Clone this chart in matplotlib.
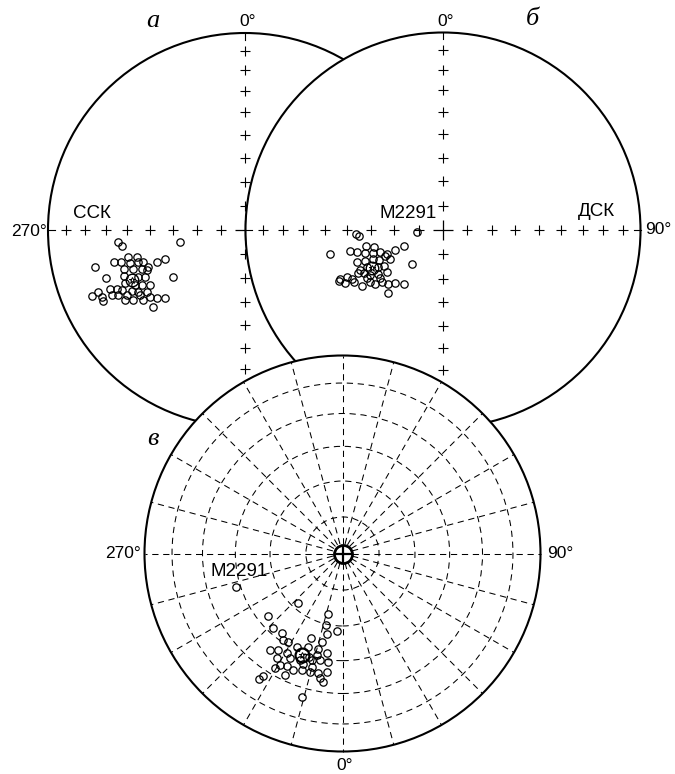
import numpy as np
import matplotlib
matplotlib.use('Agg')
import matplotlib.pyplot as plt
from matplotlib.patches import Circle
from matplotlib.transforms import Affine2D

# --- data: projected directions (equal-area net units, x = east, y = north) ---
# а: geographic system (ССК)
ssk_x = [-0.643, -0.623, -0.330, -0.761, -0.665, -0.631, -0.592, -0.550, -0.584, -0.541,
         -0.516, -0.491, -0.448, -0.406, -0.613, -0.567, -0.525, -0.499, -0.706, -0.613,
         -0.541, -0.508, -0.364, -0.609, -0.558, -0.525, -0.482, -0.685, -0.651, -0.626,
         -0.575, -0.541, -0.499, -0.745, -0.778, -0.728, -0.677, -0.643, -0.609, -0.567,
         -0.516, -0.482, -0.448, -0.406, -0.719, -0.465, -0.601, -0.533]
ssk_y = [-0.059, -0.080, -0.059, -0.190, -0.164, -0.164, -0.135, -0.139, -0.169, -0.164,
         -0.164, -0.190, -0.161, -0.147, -0.200, -0.200, -0.200, -0.203, -0.245, -0.232,
         -0.237, -0.237, -0.240, -0.271, -0.279, -0.279, -0.279, -0.301, -0.301, -0.305,
         -0.310, -0.313, -0.313, -0.316, -0.335, -0.338, -0.330, -0.330, -0.355, -0.355,
         -0.355, -0.338, -0.347, -0.347, -0.360, -0.389, -0.330, -0.330]
ssk_mean = (-0.575, -0.254)

# б: stratigraphic system (ДСК)
dsk_x = [-0.439, -0.423, -0.130, -0.571, -0.470, -0.433, -0.391, -0.347, -0.394, -0.352,
         -0.318, -0.285, -0.242, -0.200, -0.436, -0.394, -0.352, -0.322, -0.293, -0.268,
         -0.419, -0.386, -0.327, -0.298, -0.158, -0.428, -0.402, -0.369, -0.327, -0.285,
         -0.487, -0.520, -0.461, -0.495, -0.529, -0.411, -0.369, -0.343, -0.310, -0.276,
         -0.242, -0.200, -0.276, -0.453, -0.386, -0.318]
dsk_y = [-0.020, -0.029, -0.008, -0.123, -0.106, -0.109, -0.081, -0.088, -0.118, -0.118,
         -0.113, -0.123, -0.101, -0.081, -0.160, -0.155, -0.148, -0.152, -0.131, -0.148,
         -0.202, -0.189, -0.185, -0.182, -0.172, -0.219, -0.219, -0.227, -0.224, -0.215,
         -0.236, -0.249, -0.247, -0.269, -0.256, -0.286, -0.261, -0.273, -0.261, -0.273,
         -0.266, -0.273, -0.320, -0.261, -0.244, -0.244]
dsk_mean = (-0.360, -0.190)

# в
v_x = [-0.223, -0.072, -0.026, -0.083, -0.080, -0.349, -0.307, -0.299, -0.274, -0.159,
       -0.105, -0.231, -0.173, -0.122, -0.324, -0.282, -0.168, -0.130, -0.080, -0.332,
       -0.265, -0.215, -0.156, -0.114, -0.072, -0.316, -0.282, -0.198, -0.156, -0.341,
       -0.248, -0.206, -0.164, -0.122, -0.080, -0.400, -0.420, -0.290, -0.114, -0.097,
       -0.206, -0.366, -0.375, -0.539]
v_y = [-0.248, -0.305, -0.390, -0.361, -0.408, -0.378, -0.400, -0.437, -0.445, -0.425,
       -0.445, -0.471, -0.471, -0.484, -0.487, -0.501, -0.521, -0.513, -0.504, -0.529,
       -0.529, -0.538, -0.538, -0.538, -0.546, -0.563, -0.568, -0.558, -0.572, -0.580,
       -0.588, -0.588, -0.597, -0.602, -0.597, -0.619, -0.635, -0.614, -0.630, -0.647,
       -0.723, -0.487, -0.316, -0.171]
v_mean = (-0.206, -0.513)

cross_colat = [10, 20, 30, 40, 50, 60, 70, 80]
ring_colat = [15, 30, 45, 60, 75]
radial_az = list(range(0, 360, 15))

fig = plt.figure(figsize=(6.75, 7.74), dpi=100)
ax = fig.add_axes([0, 0, 1, 1])
ax.set_xlim(0, 675)
ax.set_ylim(774, 0)
ax.axis('off')


def net(cx, cy, R):
    return Affine2D().scale(R, -R).translate(cx, cy) + ax.transData


def eq_area(colat):
    return np.sqrt(2) * np.sin(np.radians(np.asarray(colat) / 2.0))


def cross_net(tr, z):
    ax.add_patch(Circle((0, 0), 1, transform=tr, fc='white', ec='black', lw=1.5, zorder=z))
    r = eq_area(cross_colat)
    zeros = np.zeros_like(r)
    xs = np.concatenate([r, -r, zeros, zeros])
    ys = np.concatenate([zeros, zeros, r, -r])
    ax.plot(xs, ys, '+', color='black', ms=7, mew=0.8, transform=tr, zorder=z + 1)
    ax.plot(0, 0, '+', color='black', ms=15, mew=0.9, transform=tr, zorder=z + 1)
    for a in [0, 90, 180, 270]:
        c, s = np.cos(np.radians(a)), np.sin(np.radians(a))
        ax.plot([c, 0.965 * c], [s, 0.965 * s], color='black', lw=0.8, transform=tr, zorder=z + 1)


def points(tr, xs, ys, mean, z, mean_ms=9, mean_mew=1.0):
    ax.plot(xs, ys, 'o', ms=5.3, mfc='none', mec='black', mew=0.9, transform=tr, zorder=z)
    ax.plot(*mean, 'o', ms=mean_ms, mfc='none', mec='black', mew=mean_mew, transform=tr, zorder=z)
    ax.plot(*mean, '*', ms=5, mfc='none', mec='black', mew=0.7, transform=tr, zorder=z)


# а
tr_a = net(245, 230, 197)
cross_net(tr_a, 1)
points(tr_a, ssk_x, ssk_y, ssk_mean, 2)

# б
tr_b = net(443, 230, 197.5)
cross_net(tr_b, 3)
points(tr_b, dsk_x, dsk_y, dsk_mean, 4)

# в
tr_v = net(342.5, 553.5, 198)
ax.add_patch(Circle((0, 0), 1, transform=tr_v, fc='white', ec='black', lw=1.5, zorder=5))
for rr in eq_area(ring_colat):
    ax.add_patch(Circle((0, 0), rr, transform=tr_v, fill=False, ec='black',
                        lw=0.75, ls=(0, (6, 4.5)), zorder=6))
for az in radial_az:
    c, s = np.sin(np.radians(az)), np.cos(np.radians(az))
    ax.plot([0.05 * c, c], [0.05 * s, s], color='black', lw=0.75, ls=(0, (6, 4.5)),
            transform=tr_v, zorder=6)
ax.plot(0, 0, 'o', ms=13, mfc='white', mec='black', mew=2.0, transform=tr_v, zorder=7)
ax.plot(0, 0, '+', ms=13, mec='black', mew=1.6, transform=tr_v, zorder=8)
points(tr_v, v_x, v_y, v_mean, 8, mean_ms=10, mean_mew=1.6)

# labels
sans = 'Liberation Sans'
serif = 'Liberation Serif'
deg = 12.5
lab = 13.5
ax.text(153, 21, 'а', fontsize=19, family=serif, style='italic', ha='center', va='center')
ax.text(532, 19, 'б', fontsize=19, family=serif, style='italic', ha='center', va='center')
ax.text(153, 439, 'в', fontsize=19, family=serif, style='italic', ha='center', va='center')
ax.text(239, 21, '0°', fontsize=deg, family=sans, ha='left', va='center')
ax.text(437, 21, '0°', fontsize=deg, family=sans, ha='left', va='center')
ax.text(47, 231, '270°', fontsize=deg, family=sans, ha='right', va='center')
ax.text(645, 230, '90°', fontsize=deg, family=sans, ha='left', va='center')
ax.text(92, 213, 'ССК', fontsize=lab, family=sans, ha='center', va='center')
ax.text(437, 213, 'М2291', fontsize=lab, family=sans, ha='right', va='center')
ax.text(596, 212, 'ДСК', fontsize=lab, family=sans, ha='center', va='center')
ax.text(141, 553, '270°', fontsize=deg, family=sans, ha='right', va='center')
ax.text(547, 553, '90°', fontsize=deg, family=sans, ha='left', va='center')
ax.text(336, 765, '0°', fontsize=deg, family=sans, ha='left', va='center')
ax.text(239, 571, 'М2291', fontsize=lab, family=sans, ha='center', va='center', zorder=10)

fig.savefig('out.png', dpi=100)
